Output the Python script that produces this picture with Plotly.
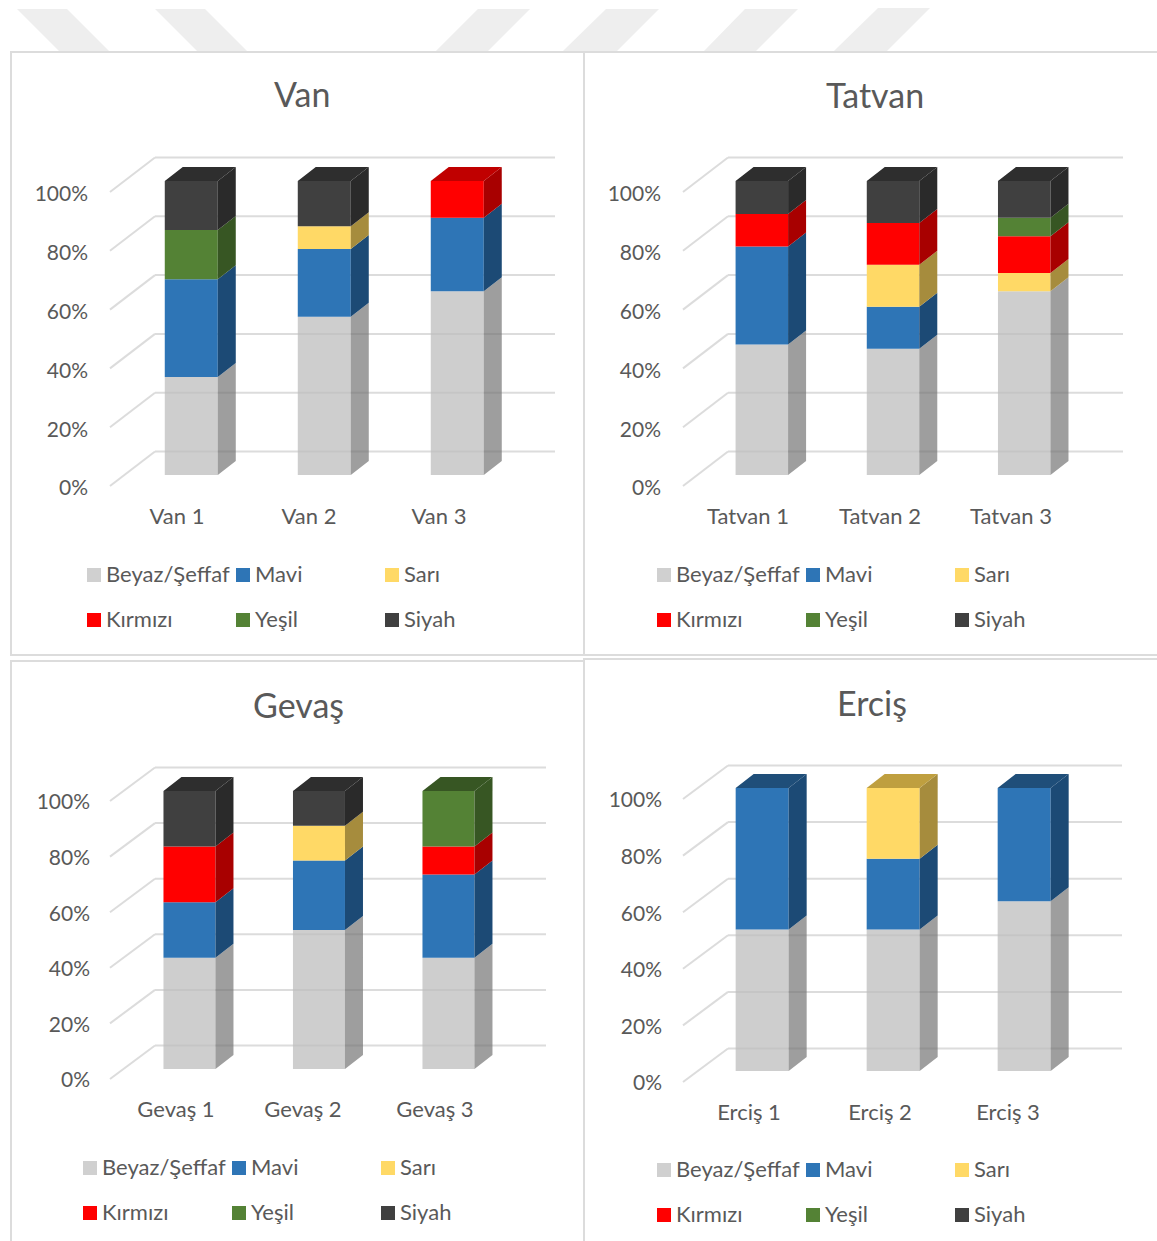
import plotly.graph_objects as go

# ---------- data (percent of items in each sample) ----------
series = ["Beyaz/Şeffaf", "Mavi", "Sarı", "Kırmızı", "Yeşil", "Siyah"]
van_labels = ["Van 1", "Van 2", "Van 3"]
tatvan_labels = ["Tatvan 1", "Tatvan 2", "Tatvan 3"]
gevas_labels = ["Gevaş 1", "Gevaş 2", "Gevaş 3"]
ercis_labels = ["Erciş 1", "Erciş 2", "Erciş 3"]

van_beyaz = [33.3, 53.8, 62.5]
van_mavi = [33.3, 23.1, 25.0]
van_sari = [0, 7.7, 0]
van_kirmizi = [0, 0, 12.5]
van_yesil = [16.7, 0, 0]
van_siyah = [16.7, 15.4, 0]

tatvan_beyaz = [44.4, 42.9, 62.5]
tatvan_mavi = [33.3, 14.3, 0]
tatvan_sari = [0, 14.3, 6.25]
tatvan_kirmizi = [11.1, 14.2, 12.5]
tatvan_yesil = [0, 0, 6.25]
tatvan_siyah = [11.2, 14.3, 12.5]

gevas_beyaz = [40, 50, 40]
gevas_mavi = [20, 25, 30]
gevas_sari = [0, 12.5, 0]
gevas_kirmizi = [20, 0, 10]
gevas_yesil = [0, 0, 20]
gevas_siyah = [20, 12.5, 0]

ercis_beyaz = [50, 50, 60]
ercis_mavi = [50, 25, 40]
ercis_sari = [0, 25, 0]
ercis_kirmizi = [0, 0, 0]
ercis_yesil = [0, 0, 0]
ercis_siyah = [0, 0, 0]

y_ticks = [0, 20, 40, 60, 80, 100]

# ---------- styles ----------
front = ["rgba(190,190,190,0.75)", "#2e75b6", "#ffd966", "#ff0000", "#548235", "#404040"]
side = ["rgba(112,112,112,0.68)", "#1c4a75", "#a68c3d", "#a80000", "#375623", "#2a2a2a"]
top = ["#a5a5a5", "#1f4e79", "#bf9f3f", "#c00000", "#375623", "#2e2e2e"]
legend_colors = ["#d0d0d0", "#2e75b6", "#ffd966", "#ff0000", "#548235", "#404040"]
TXT = "#595959"
FONT = "Lato"
GRID = "#dcdcdc"
W_PX, H_PX = 1157, 1241


def px_x(v):
    return v / W_PX


def px_y(v):
    return 1 - v / H_PX


panels = [
    dict(title="Van", tx=302, ty=94, labels=van_labels,
         vals=[van_beyaz, van_mavi, van_sari, van_kirmizi, van_yesil, van_siyah],
         x0=110, w=400, y0=488, y100=194, sx=14.6, sy=13, bw=53, bdx=18, bdy=14, pitch=133,
         wdx=45, wdy=36.5, glift=2, lab=13, lpad=21, label_px=[177, 309, 439], leg_x=[94, 243, 392], leg_y=[575, 620]),
    dict(title="Tatvan", tx=875, ty=95, labels=tatvan_labels,
         vals=[tatvan_beyaz, tatvan_mavi, tatvan_sari, tatvan_kirmizi, tatvan_yesil, tatvan_siyah],
         x0=683, w=395, y0=488, y100=194, sx=13, sy=13, bw=52.5, bdx=18, bdy=14, pitch=131.2,
         wdx=45, wdy=36.5, glift=2, lab=13, lpad=21, label_px=[748, 880, 1011], leg_x=[664, 813, 962], leg_y=[575, 620]),
    dict(title="Gevaş", tx=298, ty=704, labels=gevas_labels,
         vals=[gevas_beyaz, gevas_mavi, gevas_sari, gevas_kirmizi, gevas_yesil, gevas_siyah],
         x0=110, w=391, y0=1080, y100=802, sx=14.3, sy=11, bw=52, bdx=18, bdy=14, pitch=129.5,
         wdx=45, wdy=34.5, glift=1, lab=14, lpad=19, label_px=[176, 303, 435], leg_x=[90, 239, 388], leg_y=[1168, 1213]),
    dict(title="Erciş", tx=872, ty=702, labels=ercis_labels,
         vals=[ercis_beyaz, ercis_mavi, ercis_sari, ercis_kirmizi, ercis_yesil, ercis_siyah],
         x0=683, w=394, y0=1083, y100=800, sx=13.5, sy=12, bw=53, bdx=18, bdy=14, pitch=131,
         wdx=45, wdy=34.5, glift=1, lab=14, lpad=20, label_px=[749, 880, 1008], leg_x=[664, 813, 962], leg_y=[1170, 1215]),
]

fig = go.Figure()
shapes = []
annotations = []
layout_axes = {}

# faint backdrop stripes above the panels
stripes = [
    [(17, 9), (67, 9), (109, 51), (59, 51)],
    [(155, 9), (205, 9), (247, 51), (197, 51)],
    [(478, 9), (530, 9), (488, 51), (436, 51)],
    [(606, 9), (659, 9), (617, 51), (563, 51)],
    [(745, 9), (798, 9), (756, 51), (704, 51)],
    [(878, 8), (930, 8), (887, 51), (834, 51)],
]
for st in stripes:
    path = "M " + " L ".join(f"{px_x(a):.4f},{px_y(b):.4f}" for a, b in st) + " Z"
    shapes.append(dict(type="path", path=path, xref="paper", yref="paper",
                       fillcolor="#eeeeee", line=dict(width=0), layer="below"))

# panel frames
frames = [(11, 52, 584, 655), (584, 52, 1160, 655), (11, 661, 584, 1245), (584, 659, 1160, 1245)]
for a, b, c, d in frames:
    shapes.append(dict(type="rect", xref="paper", yref="paper",
                       x0=px_x(a), x1=px_x(c), y0=px_y(b), y1=px_y(d),
                       fillcolor="white", line=dict(color="#dcdcdc", width=2), layer="below"))

for n, p in enumerate(panels, start=1):
    xa = "x" if n == 1 else f"x{n}"
    ya = "y" if n == 1 else f"y{n}"
    unit = p["w"] / 3
    sc = (p["y0"] - p["y100"]) / 100

    def dx(v):
        return v / unit

    def dy(v):
        return v / sc

    def to_x(v):
        return (v - p["x0"]) / unit - 0.5

    # axes: the domain reaches past the front plane to hold the depth of the walls
    L, R = p["x0"] - p["lpad"], p["x0"] + p["w"] + p["wdx"] + 4
    T, B = p["y100"] - p["wdy"] - 6, p["y0"] + p["lab"]
    layout_axes["xaxis" if n == 1 else f"xaxis{n}"] = dict(
        domain=[px_x(L), px_x(R)], range=[to_x(L), to_x(R)], anchor=ya,
        tickmode="array", tickvals=[to_x(v) for v in p["label_px"]], ticktext=p["labels"],
        showgrid=False, zeroline=False, showline=False, ticks="",
        tickfont=dict(family=FONT, size=22, color=TXT), fixedrange=True)
    layout_axes["yaxis" if n == 1 else f"yaxis{n}"] = dict(
        domain=[px_y(B), px_y(T)], range=[(p["y0"] - B) / sc, (p["y0"] - T) / sc], anchor=xa,
        tickmode="array", tickvals=y_ticks, ticktext=[f"{t}%" for t in y_ticks],
        showgrid=False, zeroline=False, showline=False, ticks="",
        tickfont=dict(family=FONT, size=21, color=TXT), fixedrange=True)

    # wall and floor gridlines
    gx0, gx1 = -0.5, -0.5 + dx(p["wdx"])
    gx2 = gx1 + 3
    for t in y_ticks:
        gy0 = t + dy(p["glift"])
        gy1 = t + dy(p["wdy"])
        shapes.append(dict(type="line", xref=xa, yref=ya, x0=gx0, y0=gy0, x1=gx1, y1=gy1,
                           line=dict(color=GRID, width=2), layer="below"))
        shapes.append(dict(type="line", xref=xa, yref=ya, x0=gx1, y0=gy1, x1=gx2, y1=gy1,
                           line=dict(color=GRID, width=2), layer="below"))

    # stacked columns: front faces as bars, sides and caps as filled outlines
    first_centre = dx(p["sx"])
    positions = [first_centre + i * p["pitch"] / unit for i in range(3)]
    half = dx(p["bw"]) / 2
    lift = dy(p["sy"])
    ddx, ddy = dx(p["bdx"]), dy(p["bdy"])
    cum = [0.0, 0.0, 0.0]
    tops = [max(j for j in range(6) if p["vals"][j][i] > 0) for i in range(3)]
    for j, name in enumerate(series):
        vals = p["vals"][j]
        base = [cum[i] + lift for i in range(3)]
        fig.add_trace(go.Bar(x=positions, y=vals, base=base, width=dx(p["bw"]), name=name,
                             marker=dict(color=front[j], line=dict(width=0)), showlegend=False,
                             xaxis=xa, yaxis=ya, hovertemplate=name + ": %{y}%<extra></extra>"))
        sx_, sy_, tx_, ty_ = [], [], [], []
        for i in range(3):
            if vals[i] <= 0:
                continue
            xr = positions[i] + half
            xl = positions[i] - half
            b, t = base[i], base[i] + vals[i]
            sx_ += [xr, xr + ddx, xr + ddx, xr, xr, None]
            sy_ += [b, b + ddy, t + ddy, t, b, None]
            if tops[i] == j:
                tx_ += [xl, xr, xr + ddx, xl + ddx, xl, None]
                ty_ += [t, t, t + ddy, t + ddy, t, None]
        if sx_:
            fig.add_trace(go.Scatter(x=sx_, y=sy_, mode="lines", fill="toself", fillcolor=side[j],
                                     line=dict(width=0), hoverinfo="skip", showlegend=False,
                                     xaxis=xa, yaxis=ya))
        if tx_:
            fig.add_trace(go.Scatter(x=tx_, y=ty_, mode="lines", fill="toself", fillcolor=top[j],
                                     line=dict(width=0), hoverinfo="skip", showlegend=False,
                                     xaxis=xa, yaxis=ya))
        cum = [cum[i] + vals[i] for i in range(3)]

    annotations.append(dict(text=p["title"], xref="paper", yref="paper",
                            x=px_x(p["tx"]), y=px_y(p["ty"]), xanchor="center", yanchor="middle",
                            showarrow=False, font=dict(family=FONT, size=34, color=TXT)))

    # legend keys, laid out on a full-page overlay axis
    for j, name in enumerate(series):
        kx, ky = p["leg_x"][j % 3], p["leg_y"][j // 3]
        fig.add_trace(go.Scatter(x=[kx], y=[ky], mode="markers", name=name,
                                 marker=dict(symbol="square", size=14, color=legend_colors[j]),
                                 hoverinfo="skip", showlegend=False, xaxis="x5", yaxis="y5",
                                 cliponaxis=False))
        fig.add_trace(go.Scatter(x=[kx + 12], y=[ky + 1.5], mode="text", text=[name],
                                 textposition="middle right",
                                 textfont=dict(family=FONT, size=22, color=TXT),
                                 hoverinfo="skip", showlegend=False, xaxis="x5", yaxis="y5",
                                 cliponaxis=False))

fig.update_layout(
    width=W_PX, height=H_PX, margin=dict(l=0, r=0, t=0, b=0, pad=0),
    paper_bgcolor="white", plot_bgcolor="rgba(0,0,0,0)", barmode="overlay",
    showlegend=False, shapes=shapes, annotations=annotations,
    xaxis5=dict(domain=[0, 1], range=[0, W_PX], visible=False, anchor="y5", fixedrange=True),
    yaxis5=dict(domain=[0, 1], range=[H_PX, 0], visible=False, anchor="x5", fixedrange=True),
    **layout_axes,
)

fig.write_html("out.html", config=dict(displayModeBar=False),
               post_script="document.body.style.margin='0';")
